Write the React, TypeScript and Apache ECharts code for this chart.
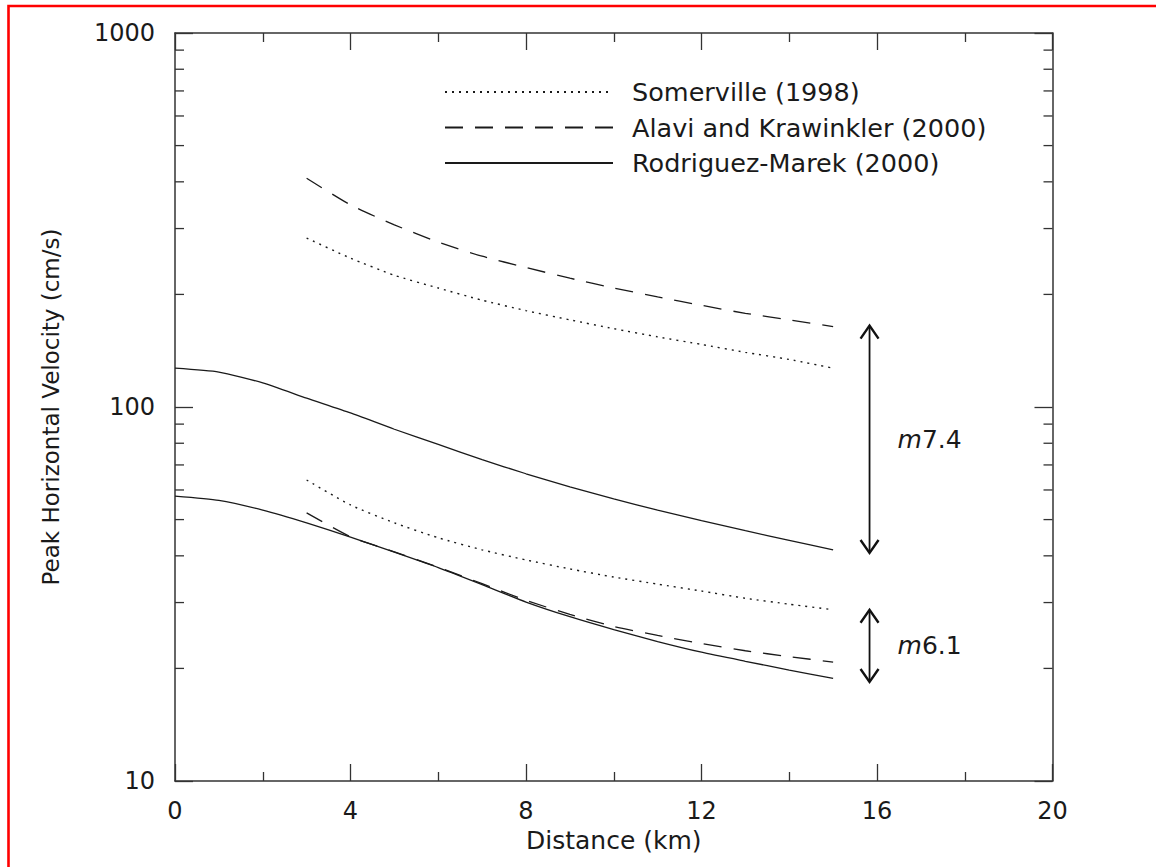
import React, { useEffect, useRef } from "react";
import * as echarts from "echarts";

const distFull = [0, 1, 2, 3, 4, 5, 6, 7, 8, 9, 10, 11, 12, 13, 14, 15];
const distPart = [3, 4, 5, 6, 7, 8, 9, 10, 11, 12, 13, 14, 15];

const rodriguez74 = [127, 124, 116, 105.6, 96.4, 87.2, 79.4, 72.3, 66.3, 61.2, 56.8, 53, 49.7, 46.7, 44, 41.5];
const rodriguez61 = [57.8, 56.3, 53, 49, 44.9, 40.9, 37.2, 33.5, 30.1, 27.5, 25.4, 23.6, 22.1, 20.9, 19.8, 18.8];
const somerville74 = [283, 250, 225, 208, 193, 181, 171, 162, 154, 147, 140, 134, 127];
const somerville61 = [63.8, 54.7, 49, 44.7, 41.5, 39, 36.9, 35.1, 33.6, 32.2, 30.8, 29.7, 28.7];
const alavi74 = [409, 347, 307, 276, 253, 236, 221, 208, 197, 187, 178, 171, 164];
const alavi61 = [52.1, 45, 41, 37.3, 33.7, 30.4, 27.9, 25.9, 24.5, 23.3, 22.3, 21.5, 20.8];

const legendNames = ["Somerville (1998)", "Alavi and Krawinkler (2000)", "Rodriguez-Marek (2000)"];

const minorTickValues = [20, 30, 40, 50, 60, 70, 80, 90, 200, 300, 400, 500, 600, 700, 800, 900];

const arrowX = 15.83;
const arrowRanges = [
  [165, 40.7],
  [28.7, 18.4],
];
const arrowLabels = ["7.4", "6.1"];

const FONT = "DejaVu Sans";
const INK = "#1a1a1a";
const AXIS = "#333";

function pairs(xs: number[], ys: number[]) {
  return xs.map((x, i) => [x, ys[i]]);
}

export default function App() {
  const ref = useRef<HTMLDivElement>(null);
  useEffect(() => {
    if (!ref.current) return;
    const chart = echarts.init(ref.current, null, { renderer: "svg" });
    const dotted = { color: INK, width: 1.4, type: [2, 5] as any };
    const dashed = { color: INK, width: 1.3, type: [18, 12] as any };
    const solid = { color: INK, width: 1.3, type: "solid" as any };
    const lineBase = { type: "line", symbol: "none", smooth: 0.2, xAxisIndex: 0, yAxisIndex: 0, z: 3 };
    chart.setOption({
      animation: false,
      backgroundColor: "#fff",
      grid: { left: 175, right: 103.5, top: 33, bottom: 86, containLabel: false },
      legend: {
        data: legendNames,
        orient: "vertical",
        left: 444,
        top: 79,
        padding: 0,
        itemWidth: 168,
        itemHeight: 20,
        itemGap: 9.5,
        itemStyle: { opacity: 0, color: "rgba(0,0,0,0)", borderWidth: 0 },
        textStyle: { fontFamily: FONT, fontSize: 25.5, color: INK, lineHeight: 26, padding: [0, 0, 0, 14] },
        inactiveColor: INK,
        selectedMode: false,
      },
      xAxis: [
        {
          type: "value",
          min: 0,
          max: 20,
          interval: 4,
          name: "Distance (km)",
          nameLocation: "middle",
          nameGap: 43,
          nameTextStyle: { fontFamily: FONT, fontSize: 25, color: INK },
          axisLine: { show: true, onZero: false, lineStyle: { color: AXIS, width: 1.5 } },
          axisTick: { show: true, inside: true, length: 17, lineStyle: { color: AXIS, width: 1.3 } },
          minorTick: { show: true, splitNumber: 2, length: 9, lineStyle: { color: AXIS, width: 1.3 } },
          axisLabel: { fontFamily: FONT, fontSize: 24, color: INK, margin: 18 },
          splitLine: { show: false },
        },
        {
          type: "value",
          position: "top",
          min: 0,
          max: 20,
          interval: 4,
          axisLine: { show: true, onZero: false, lineStyle: { color: AXIS, width: 1.5 } },
          axisTick: { show: true, inside: true, length: 17, lineStyle: { color: AXIS, width: 1.3 } },
          minorTick: { show: true, splitNumber: 2, length: 9, lineStyle: { color: AXIS, width: 1.3 } },
          axisLabel: { show: false },
          splitLine: { show: false },
        },
      ],
      yAxis: [
        {
          type: "log",
          logBase: 10,
          min: 10,
          max: 1000,
          name: "Peak Horizontal Velocity (cm/s)",
          nameLocation: "middle",
          nameGap: 113,
          nameTextStyle: { fontFamily: FONT, fontSize: 23, color: INK },
          axisLine: { show: true, onZero: false, lineStyle: { color: AXIS, width: 1.5 } },
          axisTick: { show: true, inside: true, length: 18, lineStyle: { color: AXIS, width: 1.3 } },
          axisLabel: { fontFamily: FONT, fontSize: 24, color: INK, margin: 20, formatter: (v: number) => String(Math.round(v)) },
          splitLine: { show: false },
        },
        {
          type: "log",
          logBase: 10,
          min: 10,
          max: 1000,
          position: "right",
          axisLine: { show: true, onZero: false, lineStyle: { color: AXIS, width: 1.5 } },
          axisTick: { show: true, inside: true, length: 18, lineStyle: { color: AXIS, width: 1.3 } },
          axisLabel: { show: false },
          splitLine: { show: false },
        },
      ],
      series: [
        { ...lineBase, name: legendNames[0], data: pairs(distPart, somerville74), lineStyle: dotted, itemStyle: { color: INK } },
        { ...lineBase, name: legendNames[0], data: pairs(distPart, somerville61), lineStyle: dotted, itemStyle: { color: INK } },
        { ...lineBase, name: legendNames[1], data: pairs(distPart, alavi74), lineStyle: dashed, itemStyle: { color: INK } },
        { ...lineBase, name: legendNames[1], data: pairs(distPart, alavi61), lineStyle: dashed, itemStyle: { color: INK } },
        { ...lineBase, name: legendNames[2], data: pairs(distFull, rodriguez74), lineStyle: solid, itemStyle: { color: INK } },
        { ...lineBase, name: legendNames[2], data: pairs(distFull, rodriguez61), lineStyle: solid, itemStyle: { color: INK } },
        {
          type: "custom",
          name: "minorTicks",
          silent: true,
          clip: false,
          xAxisIndex: 0,
          yAxisIndex: 0,
          encode: { x: 0, y: 1 },
          data: minorTickValues.map((v) => [0, v]),
          renderItem: (params: any, api: any) => {
            const v = api.value(1);
            const l = api.coord([0, v]);
            const r = api.coord([20, v]);
            const st = { stroke: AXIS, lineWidth: 1.3 };
            return {
              type: "group",
              children: [
                { type: "line", shape: { x1: l[0], y1: l[1], x2: l[0] + 9, y2: l[1] }, style: st },
                { type: "line", shape: { x1: r[0] - 9, y1: r[1], x2: r[0], y2: r[1] }, style: st },
              ],
            };
          },
        },
        {
          type: "custom",
          name: "arrows",
          silent: true,
          clip: false,
          xAxisIndex: 0,
          yAxisIndex: 0,
          encode: { x: 0, y: [1, 2] },
          data: arrowRanges.map((r) => [arrowX, r[0], r[1]]),
          renderItem: (params: any, api: any) => {
            const top = api.coord([api.value(0), api.value(1)]);
            const bot = api.coord([api.value(0), api.value(2)]);
            const hw = 9;
            const hh = 13;
            const st = { stroke: "#111", lineWidth: 2, fill: null };
            const label = arrowLabels[params.dataIndex];
            return {
              type: "group",
              children: [
                { type: "line", shape: { x1: top[0], y1: top[1] + 1, x2: bot[0], y2: bot[1] - 1 }, style: { stroke: "#111", lineWidth: 1.8 } },
                {
                  type: "polyline",
                  shape: { points: [[top[0] - hw, top[1] + hh], [top[0], top[1]], [top[0] + hw, top[1] + hh]] },
                  style: { ...st, lineWidth: 2.4 },
                },
                {
                  type: "polyline",
                  shape: { points: [[bot[0] - hw, bot[1] - hh], [bot[0], bot[1]], [bot[0] + hw, bot[1] - hh]] },
                  style: { ...st, lineWidth: 2.4 },
                },
                {
                  type: "text",
                  x: top[0] + 28,
                  y: (top[1] + bot[1]) / 2,
                  style: {
                    text: "{i|m}{n|" + label + "}",
                    rich: {
                      i: { fontStyle: "italic", fontFamily: FONT, fontSize: 25, fill: INK },
                      n: { fontFamily: FONT, fontSize: 25, fill: INK },
                    },
                    fontFamily: FONT,
                    fontSize: 25,
                    fill: INK,
                    align: "left",
                    verticalAlign: "middle",
                  },
                },
              ],
            };
          },
        },
      ],
      graphic: [
        {
          type: "rect",
          silent: true,
          shape: { x: 8.5, y: 6, width: 1300, height: 1000 },
          style: { fill: null, stroke: "#ff0000", lineWidth: 2.6 },
          z: 100,
        },
      ],
    });
    return () => chart.dispose();
  }, []);
  return (
    <div
      ref={ref}
      style={{ position: "absolute", left: 0, top: 0, width: 1156, height: 867, background: "#fff" }}
    />
  );
}
